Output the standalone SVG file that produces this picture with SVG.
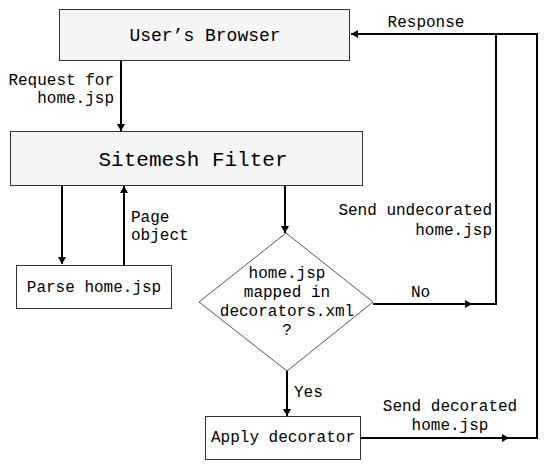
<svg xmlns="http://www.w3.org/2000/svg" width="550" height="470" viewBox="0 0 550 470">
<style>
.box{fill:#f5f5f5;stroke:#333;stroke-width:1}
.wbox{fill:#fff;stroke:#333;stroke-width:1}
.dia{fill:#fff;stroke:#555;stroke-width:1}
.t{font-family:"Liberation Mono","Courier New",monospace;font-size:16px;fill:#000}
.c{stroke:#000;stroke-width:2;fill:none}
.a{marker-end:url(#ah)}
</style>
<defs>
<marker id="ah" markerUnits="userSpaceOnUse" markerWidth="10" markerHeight="10" viewBox="0 0 10 10" refX="8" refY="5" orient="auto">
<path d="M1,1 L8,5 L1,9 z" fill="#000"/>
</marker>
</defs>
<rect width="550" height="470" fill="#fff"/>
<g id="connectors">
<line class="c a" x1="121" y1="61" x2="121" y2="131"/>
<line class="c a" x1="62" y1="186" x2="62" y2="264"/>
<line class="c a" x1="124" y1="265" x2="124" y2="186"/>
<line class="c a" x1="285" y1="186" x2="285" y2="233"/>
<line class="c a" x1="287" y1="371" x2="287" y2="416"/>
<line class="c a" x1="373" y1="304" x2="472" y2="304"/>
<polyline class="c" points="470,304 496,304 496,34"/>
<line class="c a" x1="361" y1="438" x2="509" y2="438"/>
<polyline class="c a" points="507,438 537,438 537,34 351,34"/>
</g>
<g id="browser">
<rect class="box" x="59.5" y="9.5" width="290" height="51"/>
<text class="t" x="205" y="41" font-size="18" style="font-size:18px" text-anchor="middle">User’s Browser</text>
</g>
<g id="sitemesh">
<rect class="box" x="10.5" y="131.5" width="352" height="54"/>
<text class="t" x="193" y="166" style="font-size:21px" text-anchor="middle">Sitemesh Filter</text>
</g>
<g id="parse">
<rect class="wbox" x="16.5" y="265.5" width="155" height="43"/>
<text class="t" x="94" y="292" text-anchor="middle">Parse home.jsp</text>
</g>
<g id="decision">
<polygon class="dia" points="286,233 373,302 287,371 199,302"/>
<text class="t" x="287" y="278" text-anchor="middle">home.jsp</text>
<text class="t" x="287" y="297" text-anchor="middle">mapped in</text>
<text class="t" x="287" y="316" text-anchor="middle">decorators.xml</text>
<text class="t" x="287" y="335" text-anchor="middle">?</text>
</g>
<g id="apply">
<rect class="wbox" x="205.5" y="416.5" width="155" height="43"/>
<text class="t" x="283" y="442" text-anchor="middle">Apply decorator</text>
</g>
<g id="labels">
<text class="t" x="114" y="85" text-anchor="end">Request for</text>
<text class="t" x="114" y="103" text-anchor="end">home.jsp</text>
<text class="t" x="426" y="27" text-anchor="middle">Response</text>
<text class="t" x="131" y="222">Page</text>
<text class="t" x="131" y="240">object</text>
<text class="t" x="492" y="215" text-anchor="end">Send undecorated</text>
<text class="t" x="492" y="235" text-anchor="end">home.jsp</text>
<text class="t" x="411" y="297">No</text>
<text class="t" x="294" y="397">Yes</text>
<text class="t" x="450" y="411" text-anchor="middle">Send decorated</text>
<text class="t" x="450" y="430" text-anchor="middle">home.jsp</text>
</g>
</svg>
